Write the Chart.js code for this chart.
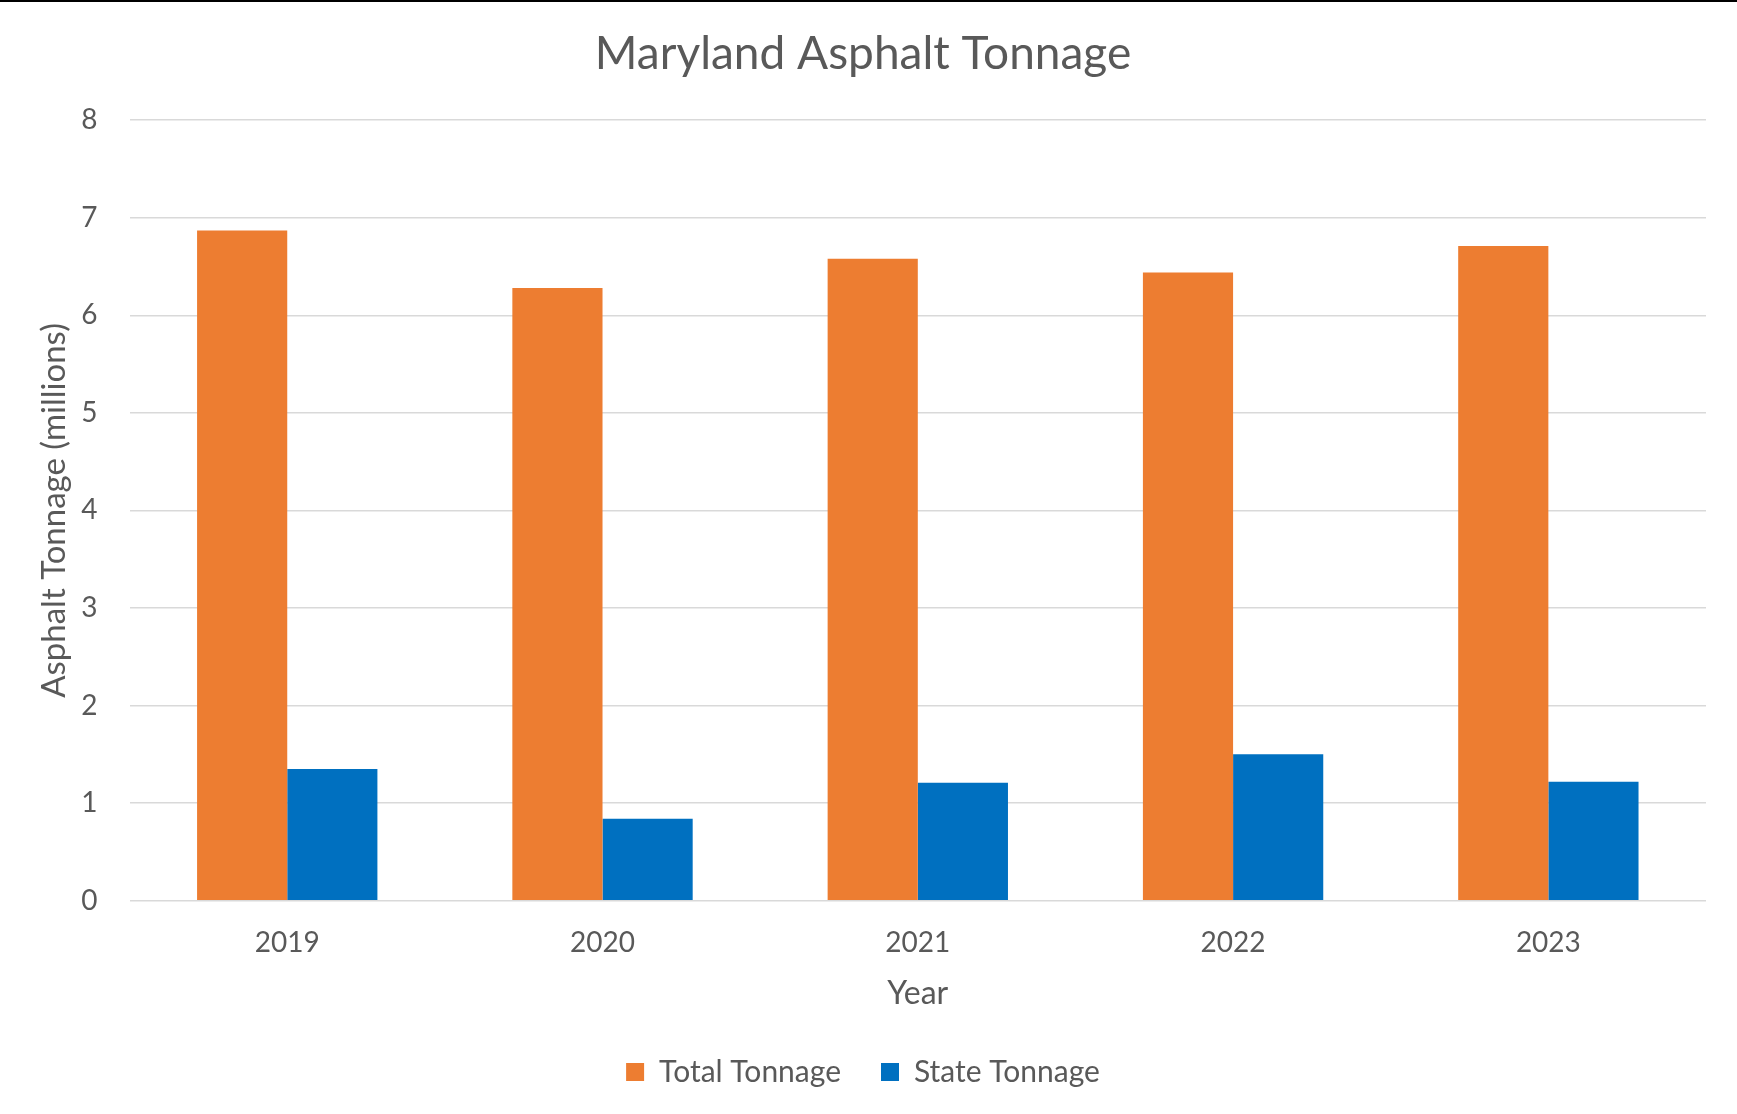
<!DOCTYPE html>
<html>
<head>
    <meta charset="UTF-8">
    <title>Maryland Asphalt Tonnage</title>
    <script src="https://cdn.jsdelivr.net/npm/chart.js"></script>
    <style>
        html, body { margin: 0; padding: 0; background: #fff; overflow: hidden; }
        .top-line { height: 2px; background: #000; width: 1737px; }
        .chart-box { width: 1737px; height: 1112px; position: relative; }
    </style>
</head>
<body>
<div class="top-line"></div>
<div class="chart-box">
    <canvas id="tonnageChart"></canvas>
</div>

<script>
    // Datos (millones de toneladas)
    const years = ['2019', '2020', '2021', '2022', '2023'];
    const totalTonnage = [6.87, 6.28, 6.58, 6.44, 6.71];
    const stateTonnage = [1.35, 0.84, 1.21, 1.50, 1.22];
    const yTicks = [0, 1, 2, 3, 4, 5, 6, 7, 8];

    const textColor = '#595959';
    const fontFamily = 'Lato, "Open Sans", sans-serif';

    Chart.defaults.font.family = fontFamily;
    Chart.defaults.color = textColor;

    const ctx = document.getElementById('tonnageChart').getContext('2d');
    new Chart(ctx, {
        type: 'bar',
        data: {
            labels: years,
            datasets: [
                {
                    label: 'Total Tonnage',
                    data: totalTonnage,
                    backgroundColor: '#ED7D31',
                    borderWidth: 0,
                },
                {
                    label: 'State Tonnage',
                    data: stateTonnage,
                    backgroundColor: '#0070C0',
                    borderWidth: 0,
                }
            ]
        },
        options: {
            responsive: true,
            maintainAspectRatio: false,
            animation: false,
            datasets: {
                bar: {
                    categoryPercentage: 0.572,
                    barPercentage: 1.0
                }
            },
            layout: {
                padding: { left: 20, right: 31, top: 0, bottom: 17 }
            },
            scales: {
                x: {
                    grid: { display: false, drawTicks: false },
                    border: { display: false },
                    ticks: {
                        padding: 25,
                        font: { size: 28 },
                        color: textColor
                    },
                    title: {
                        display: true,
                        text: 'Year',
                        font: { size: 32 },
                        color: textColor,
                        padding: { top: 10, bottom: 4 }
                    },
                    // alto fijo del eje para cuadrar con la referencia
                    afterFit: function (scale) { scale.height = 116.3; }
                },
                y: {
                    min: 0,
                    max: 8,
                    afterBuildTicks: function (axis) {
                        axis.ticks = yTicks.map(function (v) { return { value: v }; });
                    },
                    grid: {
                        color: '#d9d9d9',
                        lineWidth: 1.5,
                        drawTicks: false
                    },
                    border: { display: false },
                    ticks: {
                        padding: 32,
                        font: { size: 28 },
                        color: textColor
                    },
                    title: {
                        display: true,
                        text: 'Asphalt Tonnage (millions)',
                        font: { size: 33 },
                        color: textColor,
                        padding: { top: 15, bottom: 0 }
                    },
                    afterFit: function (scale) { scale.width = 109.6; }
                }
            },
            plugins: {
                title: {
                    display: true,
                    text: 'Maryland Asphalt Tonnage',
                    font: { size: 46, weight: 'normal' },
                    color: textColor,
                    padding: { top: 25, bottom: 38 }
                },
                legend: {
                    position: 'bottom',
                    labels: {
                        boxWidth: 18,
                        boxHeight: 18,
                        padding: 40,
                        font: { size: 30 },
                        color: textColor
                    }
                },
                tooltip: { enabled: false }
            }
        }
    });
</script>
</body>
</html>
